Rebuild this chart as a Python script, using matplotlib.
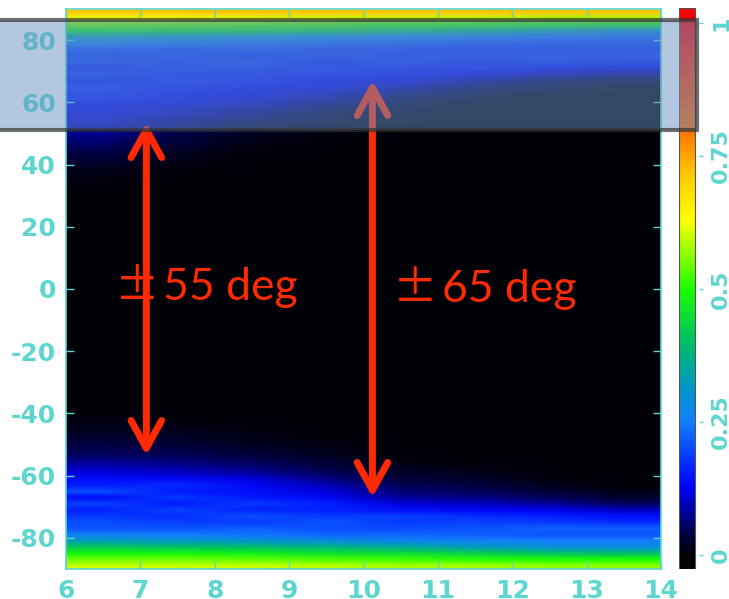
import numpy as np
import matplotlib
matplotlib.use('Agg')
import matplotlib.pyplot as plt
from matplotlib.colors import LinearSegmentedColormap, Normalize
from matplotlib.patches import Rectangle, FancyArrowPatch

# ---------------- data ----------------
x_edges = [6, 7, 8, 9, 10, 11, 12, 13, 14]          # column edges (8 columns)
y_edges_lo, y_edges_hi, y_step = -90, 90, 2          # 2-degree rows

# values in percent; columns correspond to x = 6.5 ... 13.5
bottom_rows = [-89, -87, -85, -83, -81, -79, -77, -75, -73, -71, -69, -67, -65,
               -63, -61, -59, -57, -55, -53, -51, -49, -47, -45, -43, -41, -39]
bottom_vals = [
    [60, 60, 60, 59, 58, 58, 57, 57],
    [55, 55, 54, 53, 52, 51, 50, 50],
    [49, 49, 48, 46, 45, 43, 41, 40],
    [42, 41, 40, 38, 36, 33, 30, 29],
    [33, 32, 31, 29, 27, 26, 25, 25],
    [26, 25, 24, 23, 23, 22, 21, 21],
    [21, 21, 22, 20, 20, 21, 22, 22],
    [20, 19, 18, 21, 18, 19, 18, 17],
    [18, 17, 20, 18, 19, 17, 16, 14],
    [16, 19, 16, 16, 14, 13, 12, 10],
    [19, 15, 18, 16, 11, 10, 8, 5],
    [14, 18, 15, 13, 8, 7, 5, 2.5],
    [20, 15, 14, 11, 6, 5, 3, 1],
    [15, 17, 13, 9, 4.5, 3.5, 1.5, 0.3],
    [14, 13, 11, 7, 3, 2, 0.7, 0],
    [11, 10, 8, 5, 2, 1.2, 0.3, 0],
    [9, 8, 6, 3.5, 1.2, 0.6, 0, 0],
    [7, 6, 4.5, 2.5, 0.6, 0.2, 0, 0],
    [5, 4.5, 3, 1.5, 0.3, 0, 0, 0],
    [4, 3.5, 2, 1, 0, 0, 0, 0],
    [3, 2.5, 1.5, 0.5, 0, 0, 0, 0],
    [2.2, 1.8, 1, 0.2, 0, 0, 0, 0],
    [1.5, 1.2, 0.5, 0, 0, 0, 0, 0],
    [1, 0.7, 0.2, 0, 0, 0, 0, 0],
    [0.5, 0.3, 0, 0, 0, 0, 0, 0],
    [0.2, 0, 0, 0, 0, 0, 0, 0],
]

top_rows = [89, 87, 85, 83, 81, 79, 77, 75, 73, 71, 69, 67, 65, 63,
            61, 59, 57, 55, 53, 51, 49, 47, 45, 43, 41, 39, 37, 35]
top_vals = [
    [72, 72, 72, 72, 72, 72, 72, 72],
    [62, 62, 61, 60, 60, 59, 58, 58],
    [55, 54, 53, 52, 51, 50, 49, 48],
    [47, 46, 45, 43, 41, 38, 34, 30],
    [33, 31, 29, 27, 26, 24, 23, 22],
    [25, 24, 23, 22, 21, 20, 19, 19],
    [20, 19, 20, 18, 18, 17, 17, 17],
    [18, 19, 17, 18, 17, 18, 18, 18],
    [19, 17, 19, 16, 18, 16, 17, 16],
    [16, 18, 17, 17, 15, 15, 13, 12],
    [18, 16, 16, 15, 14, 12, 9, 7],
    [15, 17, 15, 13, 12, 8, 5, 3],
    [17, 15, 14, 12, 9, 5, 2.5, 1],
    [16, 14, 12, 10, 6, 3, 1, 0.3],
    [15, 13, 11, 8, 4, 1.5, 0.3, 0],
    [13, 11, 9, 5.5, 2.5, 0.7, 0, 0],
    [12, 10, 7, 3.5, 1.5, 0.3, 0, 0],
    [11, 8.5, 5.5, 2.5, 0.8, 0, 0, 0],
    [10, 6.5, 3.5, 1.5, 0.3, 0, 0, 0],
    [8.5, 4.5, 2, 0.8, 0, 0, 0, 0],
    [7, 3.5, 1.5, 0.4, 0, 0, 0, 0],
    [5.5, 2.8, 1, 0, 0, 0, 0, 0],
    [4.5, 2, 0.6, 0, 0, 0, 0, 0],
    [3.5, 1.4, 0.3, 0, 0, 0, 0, 0],
    [2.5, 0.8, 0, 0, 0, 0, 0, 0],
    [1.5, 0.4, 0, 0, 0, 0, 0, 0],
    [0.8, 0.2, 0, 0, 0, 0, 0, 0],
    [0.4, 0, 0, 0, 0, 0, 0, 0],
]

x_ticks = [6, 7, 8, 9, 10, 11, 12, 13, 14]
y_ticks = [-80, -60, -40, -20, 0, 20, 40, 60, 80]
cbar_ticks = [0, 0.25, 0.5, 0.75, 1]
cbar_labels = ['0', '0.25', '0.5', '0.75', '1']
cbar_range = (-0.026, 1.028)

arrow_x = [7.08, 10.12]
arrow_half = [53.5, 67.0]
label_pm_x = [6.956, 10.70]
label_txt_x = [7.306, 11.06]
label_y = [-3.5, -4.2]
label_txt = ['55 deg', '65 deg']

# ---------------- build grid ----------------
n_rows = (y_edges_hi - y_edges_lo) // y_step
n_cols = len(x_edges) - 1
Z = np.zeros((n_rows, n_cols))
for yc, vals in zip(bottom_rows, bottom_vals):
    Z[(yc - y_edges_lo) // y_step] = np.array(vals) / 100.0
for yc, vals in zip(top_rows, top_vals):
    Z[(yc - y_edges_lo) // y_step] = np.array(vals) / 100.0

anchors = [(0.00, (0.0, 0.0, 0.03)), (0.04, (0.0, 0.0, 0.30)), (0.08, (0.0, 0.0, 0.62)),
           (0.12, (0.0, 0.0, 0.95)), (0.15, (0.0, 0.1, 1.0)),
           (0.25, (0.08, 0.5, 1.0)), (0.32, (0.0, 0.6, 0.75)), (0.40, (0.0, 0.75, 0.4)),
           (0.50, (0.1, 1.0, 0.0)), (0.63, (1.0, 1.0, 0.0)), (0.72, (1.0, 0.78, 0.0)),
           (0.80, (1.0, 0.45, 0.0)), (0.92, (1.0, 0.2, 0.0)), (1.00, (1.0, 0.0, 0.0))]
cmap = LinearSegmentedColormap.from_list('jetblack', anchors)
cmap.set_under(anchors[0][1])
cmap.set_over(anchors[-1][1])
norm = Normalize(0, 1)

tc = '#5cd6cf'
W, H = 729, 599
fig = plt.figure(figsize=(W / 100, H / 100), dpi=100)
fig.patch.set_facecolor('white')

ax = fig.add_axes([66 / W, 30 / H, 595 / W, 560 / H])
ax.imshow(Z, origin='lower', extent=[x_edges[0], x_edges[-1], y_edges_lo, y_edges_hi],
          aspect='auto', cmap=cmap, norm=norm, interpolation='bilinear',
          interpolation_stage='rgba')
ax.set_xlim(x_edges[0], x_edges[-1])
ax.set_ylim(y_edges_lo, y_edges_hi)
ax.set_xticks(x_ticks)
ax.set_yticks(y_ticks)
ax.set_xticklabels([str(t) for t in x_ticks])
ax.set_yticklabels([str(t) for t in y_ticks])
ax.tick_params(direction='in', length=6, width=1, color=tc, labelcolor=tc,
               labelsize=18, pad=7, top=True, right=True)
for lab in ax.get_xticklabels() + ax.get_yticklabels():
    lab.set_fontweight('bold')
    lab.set_family('DejaVu Sans')
for s in ax.spines.values():
    s.set_color(tc)
    s.set_linewidth(1.2)

# arrows and labels
for xa, h in zip(arrow_x, arrow_half):
    arr = FancyArrowPatch((xa, -h), (xa, h),
                          arrowstyle='<->,head_length=1.0,head_width=0.55',
                          mutation_scale=20, lw=5, color='#ff2a00',
                          shrinkA=0, shrinkB=0, zorder=5)
    ax.add_patch(arr)
for px, tx, ty, t in zip(label_pm_x, label_txt_x, label_y, label_txt):
    ax.text(px, ty, '\u00b1', color='#ff2a00', fontsize=32, ha='center', va='baseline',
            family=['Noto Sans CJK JP', 'DejaVu Sans'], zorder=6)
    ax.text(tx, ty, t, color='#ff2a00', fontsize=32, ha='left', va='baseline',
            family=['Lato', 'DejaVu Sans'], zorder=6)

# colorbar
cax = fig.add_axes([679 / W, 30 / H, 24 / W, 561 / H])
grad = np.linspace(cbar_range[0], cbar_range[1], 400)[:, None]
cax.imshow(grad, origin='lower', extent=[0, 0.667, cbar_range[0], cbar_range[1]],
           aspect='auto', cmap=cmap, norm=norm, interpolation='bilinear')
cax.add_patch(Rectangle((0, cbar_range[0]), 0.667, cbar_range[1] - cbar_range[0],
                        fill=False, edgecolor='#555555', lw=0.8))
cax.set_xlim(0, 1)
cax.set_ylim(*cbar_range)
for s in cax.spines.values():
    s.set_visible(False)
cax.set_xticks([])
cax.yaxis.tick_right()
cax.set_yticks(cbar_ticks)
cax.set_yticklabels(cbar_labels, rotation=90, va='center')
cax.tick_params(axis='y', direction='in', length=3, width=1, color=tc, labelcolor=tc,
                labelsize=16, pad=6)
for lab in cax.get_yticklabels():
    lab.set_fontweight('bold')
    lab.set_family('DejaVu Sans')

# overlay box
fig.add_artist(Rectangle((-5 / W, (H - 130) / H), 702 / W, 110 / H,
                         transform=fig.transFigure,
                         facecolor=(105 / 255, 145 / 255, 193 / 255, 0.5),
                         edgecolor=(0.2, 0.2, 0.2, 0.7), lw=3, zorder=20))

fig.savefig('out.png', dpi=100)
